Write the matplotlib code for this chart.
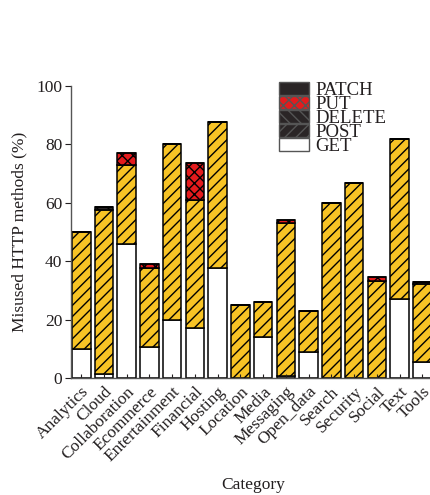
import matplotlib.pyplot as plt
from matplotlib.patches import Patch

plt.rcParams['font.family'] = ['Liberation Serif', 'DejaVu Serif']
plt.rcParams['hatch.linewidth'] = 1.0

# misused methods per category, stacked GET -> POST -> DELETE -> PUT -> PATCH
categories = ["Analytics", "Cloud", "Collaboration", "Ecommerce", "Entertainment",
              "Financial", "Hosting", "Location", "Media", "Messaging", "Open_data",
              "Search", "Security", "Social", "Text", "Tools"]
get_vals = [10, 1.5, 46, 10.5, 20, 17, 37.5, 0, 14, 0.7, 9, 0, 0, 0, 27, 5.6]
post_vals = [40, 56, 27, 27.3, 60, 44, 50, 25, 12, 52.3, 14, 60, 66.8, 33.3, 55, 26.5]
delete_vals = [0, 0.9, 0, 0, 0, 0, 0, 0, 0, 0, 0, 0, 0, 0, 0, 0.9]
put_vals = [0, 0, 4, 1.1, 0, 12.5, 0, 0, 0, 1, 0, 0, 0, 1.4, 0, 0]
patch_vals = [0] * len(categories)

TXT = "#231f20"
YELLOW = "#f7c325"
RED = "#e31b1d"
DARK = "#2a2526"

fig = plt.figure(figsize=(4.31, 4.95), dpi=100)
ax = fig.add_axes([0.1636, 0.2364, 0.848, 0.59])

x = list(range(len(categories)))
w = 0.82
kw = dict(width=w, edgecolor="black", linewidth=1.1)

bottom = [0.0] * len(categories)
ax.bar(x, get_vals, bottom=bottom, color="white", **kw)
bottom = [b + v for b, v in zip(bottom, get_vals)]
ax.bar(x, post_vals, bottom=bottom, color=YELLOW, hatch="///", **kw)
bottom = [b + v for b, v in zip(bottom, post_vals)]
ax.bar(x, delete_vals, bottom=bottom, color=DARK, hatch="\\\\\\", **kw)
bottom = [b + v for b, v in zip(bottom, delete_vals)]
ax.bar(x, put_vals, bottom=bottom, color=RED, hatch="xxx", **kw)
bottom = [b + v for b, v in zip(bottom, put_vals)]
ax.bar(x, patch_vals, bottom=bottom, color=DARK, **kw)

ax.set_xlim(-0.47, 15.6)
ax.set_ylim(0, 100)
ax.set_yticks([0, 20, 40, 60, 80, 100])
ax.set_xticks(x)
ax.set_xticklabels(categories, rotation=45, ha="right", rotation_mode="anchor")

for s in ["top", "right"]:
    ax.spines[s].set_visible(False)
for s in ["left", "bottom"]:
    ax.spines[s].set_color("#555555")
    ax.spines[s].set_linewidth(1.0)

ax.tick_params(axis="y", direction="out", length=4, labelsize=12.5, colors=TXT, pad=2)
ax.tick_params(axis="x", direction="in", length=3, labelsize=12.5, colors=TXT, pad=4)
ax.tick_params(axis="x", labelcolor=TXT)

ax.set_ylabel("Misused HTTP methods (%)", fontsize=12.5, color=TXT, labelpad=6)
ax.set_xlabel("Category", fontsize=12.5, color=TXT, labelpad=9)

handles = [
    Patch(facecolor=DARK, edgecolor="#555555", label="PATCH"),
    Patch(facecolor=RED, edgecolor="#555555", hatch="xxx", label="PUT"),
    Patch(facecolor=DARK, edgecolor="#555555", hatch="\\\\\\", label="DELETE"),
    Patch(facecolor=DARK, edgecolor="#555555", hatch="///", label="POST"),
    Patch(facecolor="white", edgecolor="#555555", label="GET"),
]
leg = ax.legend(handles=handles, loc="upper left", bbox_to_anchor=(0.534, 1.06),
                frameon=False, fontsize=13.5, handlelength=1.6, handleheight=0.75,
                labelspacing=-0.18, handletextpad=0.35, borderpad=0.2)
for t in leg.get_texts():
    t.set_color(TXT)

fig.savefig("out.png", dpi=100)
